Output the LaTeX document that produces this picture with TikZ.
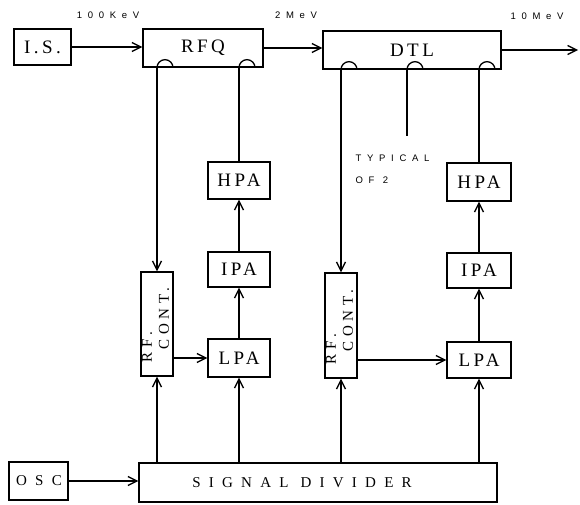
\documentclass[tikz,border=0pt]{standalone}
\usepackage{fontspec}
\setmainfont{Liberation Serif}
\newfontfamily\lblfont[LetterSpace=60]{Liberation Sans}
\newfontfamily\boxfont[LetterSpace=18]{Liberation Serif}
\newfontfamily\widefont[LetterSpace=55]{Liberation Serif}
\newfontfamily\rcfont[LetterSpace=30]{Liberation Serif}
\usetikzlibrary{arrows.meta,calc}
\begin{document}
\begin{tikzpicture}[x=1pt,y=-1pt,line width=1.3pt,
  box/.style={draw,inner sep=0pt,font=\boxfont\fontsize{19}{19}\selectfont},
  plainbox/.style={draw,inner sep=0pt},
  widetext/.style={inner sep=0pt,font=\widefont\fontsize{15}{15}\selectfont},
  arr/.style={-{Straight Barb[length=9pt,width=9pt,line width=1.3pt]}},
  lbl/.style={font=\lblfont\fontsize{9.5}{10}\selectfont,inner sep=0pt},
  rclbl/.style={font=\rcfont\fontsize{15}{15}\selectfont,inner sep=0pt,rotate=90,anchor=west}]
\useasboundingbox (0,0) rectangle (580,504);
% boxes
\node[box,minimum width=57pt,minimum height=36pt] (is) at (42.5,47) {I.S.};
\node[box,minimum width=120pt,minimum height=38pt] (rfq) at (203,48) {RFQ};
\node[box,minimum width=178pt,minimum height=38pt] (dtl) at (412,50) {DTL};
\node[plainbox,minimum width=32pt,minimum height=104pt] (rc1) at (157,324) {};
\node[box,minimum width=62pt,minimum height=37pt] (hpa1) at (239,180.5) {HPA};
\node[box,minimum width=62pt,minimum height=35pt] (ipa1) at (239,269.5) {IPA};
\node[box,minimum width=62pt,minimum height=38pt] (lpa1) at (239,358) {LPA};
\node[plainbox,minimum width=32pt,minimum height=105pt] (rc2) at (341,325.5) {};
\node[box,minimum width=64pt,minimum height=38pt] (hpa2) at (479,182) {HPA};
\node[box,minimum width=64pt,minimum height=35pt] (ipa2) at (479,270.5) {IPA};
\node[box,minimum width=64pt,minimum height=36pt] (lpa2) at (479,360) {LPA};
\node[plainbox,minimum width=358pt,minimum height=39pt] (sd) at (318,482.5) {};
\node[plainbox,minimum width=59pt,minimum height=38pt] (osc) at (38.5,481) {};
\node[widetext] (sdt) at (302,483) {SIGNAL DIVIDER};
\node[widetext] (osct) at (39,481) {OSC};
% RF CONT labels
\node[rclbl] (rf1) at ($(rc1.south)+(-10,-14)$) {RF.};
\node[rclbl] (ct1) at ($(rc1.south)+(7,-27)$) {CONT.};
\node[rclbl] (rf2) at ($(rc2.south)+(-10,-14)$) {RF.};
\node[rclbl] (ct2) at ($(rc2.south)+(7,-27)$) {CONT.};
% energy labels
\node[lbl] (e1) at (108,15) {100KeV};
\node[lbl] (e2) at (296,15) {2MeV};
\node[lbl] (e3) at (537,16) {10MeV};
\node[lbl,anchor=west] (typ) at (355,158) {TYPICAL};
\node[lbl,anchor=west] (of2) at (355,180) {OF 2};
% beam line
\coordinate (out) at (578,50);
\draw[arr] (is.east) -- (is.east -| rfq.west);
\draw[arr] (rfq.east) -- (rfq.east -| dtl.west);
\draw[arr] (dtl.east) -- (dtl.east -| out);
% couplers
\coordinate (b1) at (rc1.north |- rfq.south);
\coordinate (b2) at (hpa1.north |- rfq.south);
\coordinate (b3) at (rc2.north |- dtl.south);
\coordinate (b4) at ($(dtl.south)+(-5,0)$);
\coordinate (b5) at (hpa2.north |- dtl.south);
\coordinate (t4) at (407,136);
\foreach \b in {b1,b2,b3,b4,b5} \draw (\b) arc (180:360:8);
\draw[arr] (b1) -- (rc1.north);
\draw (b2) -- (hpa1.north);
\draw[arr] (b3) -- (rc2.north);
\draw (b4) -- (t4);
\draw (b5) -- (hpa2.north);
% amplifier chains
\draw[arr] (lpa1.north) -- (ipa1.south);
\draw[arr] (ipa1.north) -- (hpa1.south);
\draw[arr] (lpa2.north) -- (ipa2.south);
\draw[arr] (ipa2.north) -- (hpa2.south);
\draw[arr] (rc1.east |- lpa1.west) -- (lpa1.west);
\draw[arr] (rc2.east |- lpa2.west) -- (lpa2.west);
% signal divider outputs
\draw[arr] (rc1.south |- sd.north) -- (rc1.south);
\draw[arr] (lpa1.south |- sd.north) -- (lpa1.south);
\draw[arr] (rc2.south |- sd.north) -- (rc2.south);
\draw[arr] (lpa2.south |- sd.north) -- (lpa2.south);
\draw[arr] (osc.east) -- (osc.east -| sd.west);
\end{tikzpicture}
\end{document}
